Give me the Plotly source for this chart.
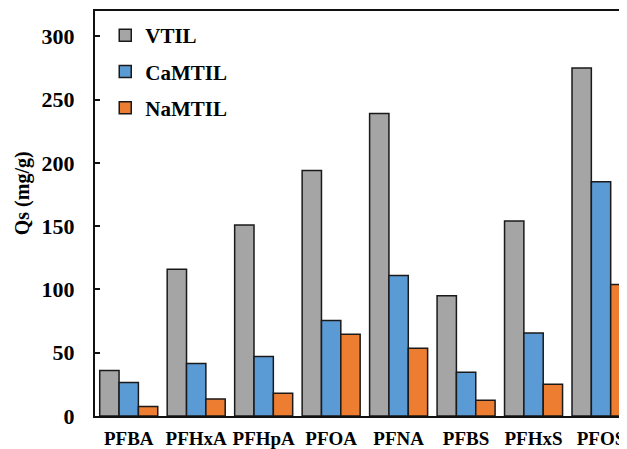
import plotly.graph_objects as go

categories = ["PFBA", "PFHxA", "PFHpA", "PFOA", "PFNA", "PFBS", "PFHxS", "PFOS"]
vtil = [36, 116, 151, 194, 239, 95, 154, 275]
camtil = [26.5, 41.5, 47, 75.5, 111, 34.5, 65.5, 185]
namtil = [7.5, 13.5, 18, 64.5, 53.5, 12.5, 25, 104]
series_names = ["VTIL", "CaMTIL", "NaMTIL"]
colors = ["#A5A5A5", "#5B9BD5", "#ED7D31"]

FONT = "Liberation Serif"
fig = go.Figure()
for name, vals, col in zip(series_names, [vtil, camtil, namtil], colors):
    fig.add_trace(go.Bar(
        x=list(range(len(categories))), y=vals, name=name,
        marker=dict(color=col, line=dict(color="#1a1a1a", width=1.5)),
        legendgroup=name,
    ))

# page body has an 8px default margin: compensate so the plot lands where the reference has it
OFF = 8
W, H = 627, 449
left, top, bottom = 94.75 - OFF, 11 - OFF, 416 - OFF
pw, ph = W - left, bottom - top
fig.update_layout(
    width=W, height=H,
    margin=dict(l=left, r=0, t=top, b=H - bottom, pad=0, autoexpand=False),
    paper_bgcolor="white", plot_bgcolor="white",
    barmode="group", bargap=0.14, bargroupgap=0,
    font=dict(family=FONT, color="black"),
    showlegend=True,
    legend=dict(
        x=(97 - left) / pw, y=1 - 4 / ph, xanchor="left", yanchor="top",
        font=dict(family=FONT, size=21, color="black", weight="bold"),
        bgcolor="rgba(0,0,0,0)", traceorder="grouped", tracegroupgap=6,
        itemwidth=30,
    ),
    xaxis=dict(
        range=[-0.5, -0.5 + pw / 67.5],
        tickmode="array", tickvals=list(range(len(categories))), ticktext=categories,
        tickfont=dict(family=FONT, size=19, color="black", weight="bold"),
        tickangle=0, automargin=False,
        showline=True, linecolor="#111", linewidth=2, mirror=True,
        ticks="", showgrid=False, zeroline=False, ticklabelstandoff=4,
    ),
    yaxis=dict(
        range=[0, 320], tickmode="array", tickvals=[0, 50, 100, 150, 200, 250, 300],
        tickfont=dict(family=FONT, size=22, color="black", weight="bold"),
        automargin=False,
        showline=True, linecolor="#111", linewidth=2,
        ticks="inside", ticklen=5, tickwidth=1.5, tickcolor="#111",
        showgrid=False, zeroline=False, ticklabelstandoff=14,
    ),
    annotations=[dict(
        text="Qs (mg/g)", textangle=-90, xref="paper", yref="paper",
        x=(22 - OFF - left) / pw, y=(bottom - (193 - OFF)) / ph,
        xanchor="center", yanchor="middle", showarrow=False,
        font=dict(family=FONT, size=20, color="black", weight="bold"),
    )],
)
fig.write_html("out.html")
